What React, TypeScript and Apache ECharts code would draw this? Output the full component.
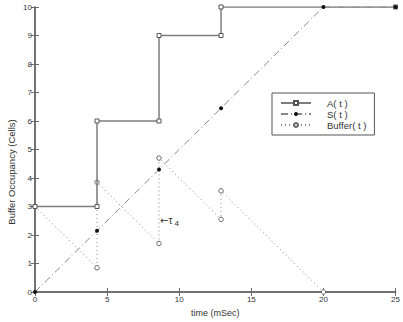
import React, { useEffect, useRef } from "react";
import * as echarts from "echarts";

const xTicks = [0, 5, 10, 15, 20, 25];
const arrivals: [number, number][] = [
  [0, 3], [4.3, 3], [4.3, 6], [8.6, 6], [8.6, 9], [12.9, 9], [12.9, 10], [25, 10],
];
const service: [number, number][] = [
  [0, 0], [4.3, 2.15], [8.6, 4.3], [12.9, 6.45], [20, 10], [25, 10],
];
const buffer: [number, number][] = [
  [0, 3], [4.3, 0.85], [4.3, 3.85], [8.6, 1.7], [8.6, 4.7], [12.9, 2.55], [12.9, 3.55], [20, 0],
];
const seriesNames = ["A( t )", "S( t )", "Buffer( t )"];
const tauLabelAt: [number, number] = [8.6, 2.5];

const FONT = "Liberation Sans, Arial, sans-serif";
const AX = "#6a6a6a";

export default function App() {
  const ref = useRef<HTMLDivElement>(null);
  useEffect(() => {
    const chart = echarts.init(ref.current!, null, { renderer: "svg" });
    const axisCommon = {
      type: "value" as const,
      axisLine: { show: true, lineStyle: { color: AX, width: 1.5 } },
      axisTick: { show: true, inside: true, length: 4, lineStyle: { color: AX, width: 1 } },
      splitLine: { show: false },
    };
    chart.setOption({
      animation: false,
      textStyle: { fontFamily: FONT },
      grid: { left: 35, right: 6, top: 7, bottom: 28, containLabel: false },
      xAxis: [
        {
          ...axisCommon,
          min: 0, max: 25, interval: 5,
          axisLabel: { color: "#333", fontSize: 8, margin: 3, fontFamily: FONT },
          name: "time (mSec)",
          nameLocation: "middle",
          nameGap: 16,
          nameTextStyle: { color: "#333", fontSize: 9, fontFamily: FONT },
        },
        {
          ...axisCommon,
          position: "top",
          min: 0, max: 25, interval: 5,
          axisLabel: { show: false },
        },
      ],
      yAxis: [
        {
          ...axisCommon,
          min: 0, max: 10, interval: 1,
          axisLabel: { color: "#333", fontSize: 8, margin: 3, fontFamily: FONT },
        },
        {
          ...axisCommon,
          position: "right",
          min: 0, max: 10, interval: 1,
          axisLabel: { show: false },
        },
      ],
      legend: {
        orient: "vertical",
        left: 272,
        top: 93,
        data: seriesNames,
        backgroundColor: "#fff",
        borderColor: "#555",
        borderWidth: 1,
        borderRadius: 0,
        padding: [5, 8, 5, 8],
        itemGap: 1,
        itemWidth: 30,
        itemHeight: 5,
        textStyle: { color: "#333", fontSize: 9.5, fontFamily: FONT, padding: [0, 12, 0, 11] },
      },
      graphic: [
        {
          type: "text",
          x: 11,
          y: 172,
          rotation: Math.PI / 2,
          style: {
            text: "Buffer Occupancy (Cells)",
            fill: "#333",
            font: `9.5px ${FONT}`,
            align: "center",
            verticalAlign: "middle",
          },
        },
      ],
      series: [
        {
          name: seriesNames[0],
          type: "line",
          data: arrivals,
          symbol: "rect",
          symbolSize: 4,
          showSymbol: true,
          itemStyle: { color: "#fff", borderColor: "#555", borderWidth: 1 },
          lineStyle: { color: "#7d7d7d", width: 1.5 },
          z: 3,
        },
        {
          name: seriesNames[1],
          type: "line",
          data: service,
          symbol: "circle",
          symbolSize: 4,
          itemStyle: { color: "#111", borderColor: "#111", borderWidth: 0 },
          lineStyle: { color: "#888", width: 1, type: [7, 3, 1, 3] },
          z: 4,
        },
        {
          name: seriesNames[2],
          type: "line",
          data: buffer,
          symbol: "circle",
          symbolSize: 4.5,
          itemStyle: { color: "#fff", borderColor: "#666", borderWidth: 1 },
          lineStyle: { color: "#888", width: 1, type: [1, 3] },
          z: 2,
          markPoint: {
            symbol: "circle",
            symbolSize: 0,
            data: [{ coord: tauLabelAt }],
            label: {
              show: true,
              position: "right",
              distance: 1,
              formatter: "{c|\u2190}{a|\u03c4}{b| 4}",
              rich: {
                c: { fontSize: 10, color: "#333", fontFamily: "DejaVu Sans" },
                a: { fontSize: 10, color: "#333", fontFamily: FONT },
                b: { fontSize: 8, color: "#333", fontFamily: FONT, padding: [6, 0, 0, 0] },
              },
            },
          },
        },
      ],
    });
    return () => chart.dispose();
  }, []);
  return <div ref={ref} style={{ width: 403, height: 322, position: "absolute", left: 0, top: 0, background: "#fff" }} />;
}
